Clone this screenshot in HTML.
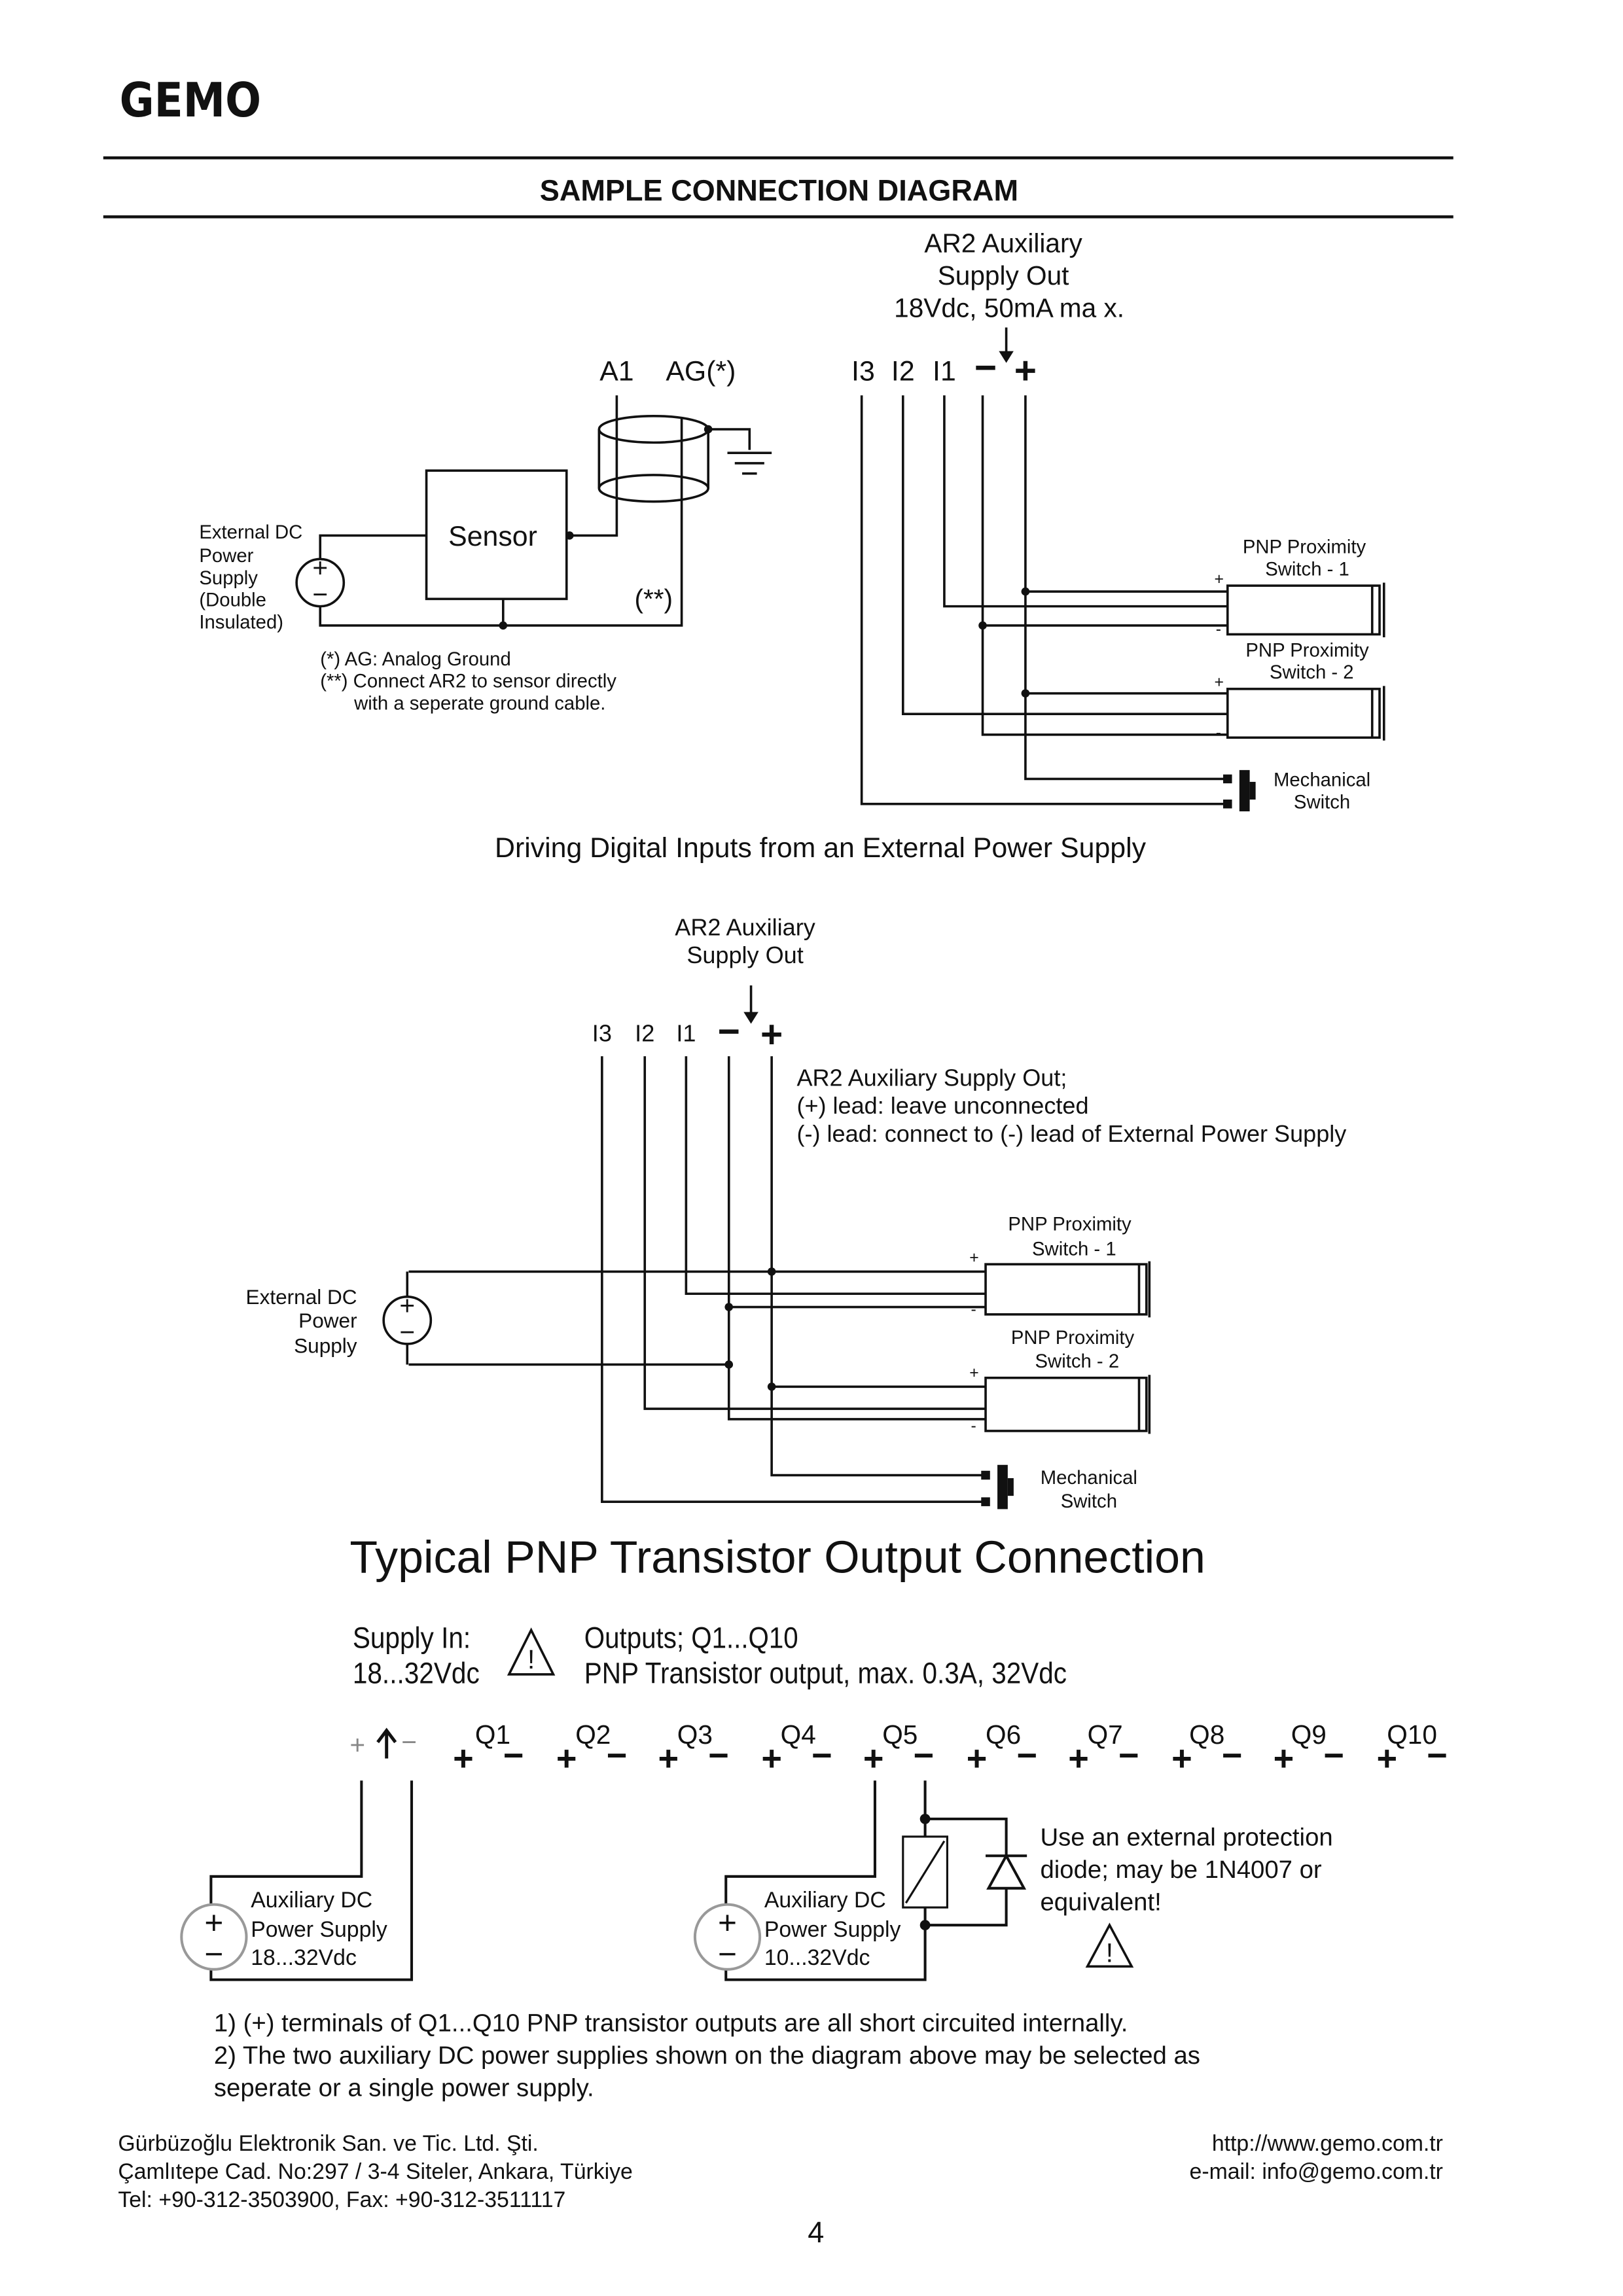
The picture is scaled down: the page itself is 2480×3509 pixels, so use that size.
<!DOCTYPE html>
<html><head><meta charset="utf-8"><style>html,body{margin:0;padding:0;background:#fff}svg{display:block}text{font-family:"Liberation Sans",sans-serif;fill:#111}</style></head>
<body>
<svg width="2480" height="3509" viewBox="0 0 1100 1556.4" preserveAspectRatio="none" xmlns="http://www.w3.org/2000/svg">
<g stroke="#111" fill="none" stroke-width="1.6">
<!-- header -->
<line x1="70" y1="107" x2="985" y2="107" stroke-width="2"/>
<line x1="70" y1="147" x2="985" y2="147" stroke-width="2"/>
</g>
<text x="81" y="79" font-size="32" font-weight="bold" style="font-family:'DejaVu Sans',sans-serif" textLength="96" lengthAdjust="spacingAndGlyphs">GEMO</text>
<text x="528" y="136" font-size="20" font-weight="bold" text-anchor="middle">SAMPLE CONNECTION DIAGRAM</text>

<!-- Section 1 -->
<g font-size="18" text-anchor="middle">
<text x="680" y="171">AR2 Auxiliary</text>
<text x="680" y="193">Supply Out</text>
<text x="684" y="215">18Vdc, 50mA ma x.</text>
</g>
<g font-size="19" text-anchor="middle">
<text x="418" y="258">A1</text><text x="475" y="258">AG(*)</text>
<text x="585" y="258">I3</text><text x="612" y="258">I2</text><text x="640" y="258">I1</text>
<text x="668" y="258" font-size="26" font-weight="bold">−</text><text x="695" y="260" font-size="26" font-weight="bold">+</text>
</g>
<g stroke="#111" fill="none" stroke-width="1.6">
<line x1="682" y1="222" x2="682" y2="240"/>
<path d="M584 268V545H830M612 268V484H832M640 268V411H832M666 268V498H832M695 268V528H830M695 401H832M695 470H832M666 424H832"/>
<rect x="832" y="397" width="103" height="33"/><line x1="930" y1="397" x2="930" y2="430"/><line x1="938" y1="395" x2="938" y2="432"/>
<rect x="832" y="467" width="103" height="33"/><line x1="930" y1="467" x2="930" y2="500"/><line x1="938" y1="465" x2="938" y2="502"/>
<rect x="289" y="319" width="95" height="87"/>
<circle cx="217" cy="395" r="16"/>
<path d="M217 379V363H289M217 411V424H462V283M341 424V406M384 363H418V268"/>
<ellipse cx="443" cy="291" rx="37" ry="9"/><ellipse cx="443" cy="331" rx="37" ry="9"/>
<path d="M406 291V331M480 291V331M480 291H508V305M493 307H523M498 314H518M503 321H513"/>
</g>
<g fill="#111">
<path d="M677 238L687 238L682 246Z"/>
<circle cx="695" cy="401" r="2.8"/><circle cx="695" cy="470" r="2.8"/><circle cx="666" cy="424" r="2.8"/>
<circle cx="341" cy="424" r="2.8"/><circle cx="386" cy="363" r="2.8"/><circle cx="480" cy="291" r="2.8"/>
<rect x="829" y="525" width="6" height="6"/><rect x="829" y="542" width="6" height="6"/>
<rect x="840" y="522" width="7" height="28"/><rect x="847" y="530" width="4" height="12"/>
</g>
<g font-size="18" text-anchor="middle"><text x="217" y="391">+</text><text x="217" y="409">−</text></g>
<text x="334" y="370" font-size="19" text-anchor="middle">Sensor</text>
<text x="443" y="412" font-size="18" text-anchor="middle">(**)</text>
<g font-size="13"><text x="135" y="365">External DC</text><text x="135" y="381">Power</text><text x="135" y="396">Supply</text><text x="135" y="411">(Double</text><text x="135" y="426">Insulated)</text>
<text x="217" y="451">(*) AG: Analog Ground</text><text x="217" y="466">(**) Connect AR2 to sensor directly</text><text x="240" y="481">with a seperate ground cable.</text></g>
<g font-size="13" text-anchor="middle"><text x="884" y="375">PNP Proximity</text><text x="886" y="390">Switch  - 1</text><text x="886" y="445">PNP Proximity</text><text x="889" y="460">Switch  - 2</text><text x="896" y="533">Mechanical</text><text x="896" y="548">Switch</text></g>
<g font-size="11"><text x="823" y="396">+</text><text x="824" y="430">-</text><text x="823" y="466">+</text><text x="824" y="500">-</text></g>
<text x="556" y="581" font-size="19" text-anchor="middle">Driving Digital Inputs from an External Power Supply</text>

<!-- Section 2 -->
<g font-size="16" text-anchor="middle"><text x="505" y="634">AR2 Auxiliary</text><text x="505" y="653">Supply Out</text>
<text x="408" y="706">I3</text><text x="437" y="706">I2</text><text x="465" y="706">I1</text>
<text x="494" y="708" font-size="26" font-weight="bold">−</text><text x="523" y="710" font-size="26" font-weight="bold">+</text></g>
<g font-size="16"><text x="540" y="736">AR2 Auxiliary Supply Out;</text><text x="540" y="755">(+) lead: leave unconnected</text><text x="540" y="774">(-) lead: connect to (-) lead of External Power Supply</text></g>
<g stroke="#111" fill="none" stroke-width="1.6">
<line x1="509" y1="668" x2="509" y2="688"/>
<path d="M408 716V1018H668M437 716V955H668M465 716V877H668M494 716V962H668M523 716V1000H668M523 940H668M494 886H668M277 862H668M277 925H494"/>
<circle cx="276" cy="895" r="16"/><path d="M276 879V862M276 911V925"/>
<rect x="668" y="857" width="109" height="34"/><line x1="772" y1="857" x2="772" y2="891"/><line x1="779" y1="855" x2="779" y2="893"/>
<rect x="668" y="934" width="109" height="36"/><line x1="772" y1="934" x2="772" y2="970"/><line x1="779" y1="932" x2="779" y2="972"/>
</g>
<g fill="#111"><path d="M504 686L514 686L509 694Z"/>
<circle cx="523" cy="862" r="2.8"/><circle cx="523" cy="940" r="2.8"/><circle cx="494" cy="886" r="2.8"/><circle cx="494" cy="925" r="2.8"/>
<rect x="665" y="997" width="6" height="6"/><rect x="665" y="1015" width="6" height="6"/>
<rect x="676" y="993" width="7" height="30"/><rect x="683" y="1002" width="4" height="12"/></g>
<g font-size="18" text-anchor="middle"><text x="276" y="891">+</text><text x="276" y="909">−</text></g>
<g font-size="14" text-anchor="end"><text x="242" y="884">External DC</text><text x="242" y="900">Power</text><text x="242" y="917">Supply</text></g>
<g font-size="13" text-anchor="middle"><text x="725" y="834">PNP Proximity</text><text x="728" y="851">Switch  - 1</text><text x="727" y="911">PNP Proximity</text><text x="730" y="927">Switch  - 2</text><text x="738" y="1006">Mechanical</text><text x="738" y="1022">Switch</text></g>
<g font-size="11"><text x="657" y="856">+</text><text x="658" y="891">-</text><text x="657" y="934">+</text><text x="658" y="970">-</text></g>

<!-- Section 3 -->
<text x="237" y="1066" font-size="31">Typical PNP Transistor Output Connection</text>
<g font-size="20"><text x="239" y="1117" textLength="80" lengthAdjust="spacingAndGlyphs">Supply In:</text><text x="239" y="1141" textLength="86" lengthAdjust="spacingAndGlyphs">18...32Vdc</text>
<text x="396" y="1117" textLength="145" lengthAdjust="spacingAndGlyphs">Outputs; Q1...Q10</text><text x="396" y="1141" textLength="327" lengthAdjust="spacingAndGlyphs">PNP Transistor output, max. 0.3A, 32Vdc</text></g>
<g stroke="#111" fill="none" stroke-width="1.6">
<path d="M360 1105L345 1135H375Z"/><path d="M752 1305L737 1333H767Z"/>
</g>
<g font-size="18" text-anchor="middle" font-weight="bold"><text x="360" y="1131" font-weight="normal">!</text><text x="752" y="1330" font-weight="normal">!</text></g>
<g font-size="18" fill="#777"><text x="237" y="1189" style="fill:#888">+</text><text x="272" y="1187" style="fill:#888">−</text></g>
<g stroke="#111" stroke-width="2.2" fill="none"><path d="M262 1192V1174M256 1181L262 1173L268 1181"/></g>
<g font-size="18" text-anchor="middle">
<text x="334" y="1182">Q1</text><text x="402" y="1182">Q2</text><text x="471" y="1182">Q3</text><text x="541" y="1182">Q4</text><text x="610" y="1182">Q5</text><text x="680" y="1182">Q6</text><text x="749" y="1182">Q7</text><text x="818" y="1182">Q8</text><text x="887" y="1182">Q9</text><text x="957" y="1182">Q10</text>
</g>
<g font-size="24" font-weight="bold" text-anchor="middle">
<text x="314" y="1200">+</text><text x="348" y="1198">−</text><text x="384" y="1200">+</text><text x="418" y="1198">−</text><text x="453" y="1200">+</text><text x="487" y="1198">−</text><text x="523" y="1200">+</text><text x="557" y="1198">−</text><text x="592" y="1200">+</text><text x="626" y="1198">−</text><text x="662" y="1200">+</text><text x="696" y="1198">−</text><text x="731" y="1200">+</text><text x="765" y="1198">−</text><text x="801" y="1200">+</text><text x="835" y="1198">−</text><text x="870" y="1200">+</text><text x="904" y="1198">−</text><text x="940" y="1200">+</text><text x="974" y="1198">−</text>
</g>
<g stroke="#111" fill="none" stroke-width="1.8">
<path d="M245 1207V1272H143V1291M279 1207V1342H143V1335"/>
<circle cx="145" cy="1313" r="22" stroke="#999"/>
<path d="M593 1207V1272H492V1291M627 1207V1342H492V1335"/>
<circle cx="493" cy="1313" r="22" stroke="#999"/>
<path d="M627 1233H682V1305H627"/>
<path d="M670 1280L694 1280L682 1258Z" fill="#fff"/><line x1="668" y1="1258" x2="696" y2="1258"/>
</g>
<rect x="612" y="1245" width="30" height="48" fill="#fff" stroke="#111" stroke-width="1.4"/>
<line x1="614" y1="1290" x2="640" y2="1248" stroke="#111" stroke-width="1.4"/>
<g fill="#111"><circle cx="627" cy="1233" r="3.5"/><circle cx="627" cy="1305" r="3.5"/></g>
<g font-size="22" text-anchor="middle"><text x="145" y="1311">+</text><text x="145" y="1332">−</text><text x="493" y="1311">+</text><text x="493" y="1332">−</text></g>
<g font-size="15"><text x="170" y="1293">Auxiliary DC</text><text x="170" y="1313">Power Supply</text><text x="170" y="1332">18...32Vdc</text>
<text x="518" y="1293">Auxiliary DC</text><text x="518" y="1313">Power Supply</text><text x="518" y="1332">10...32Vdc</text></g>
<g font-size="17"><text x="705" y="1251">Use an external protection</text><text x="705" y="1273">diode; may be 1N4007 or</text><text x="705" y="1295">equivalent!</text>
<text x="145" y="1377">1) (+) terminals of Q1...Q10 PNP transistor outputs are all short circuited internally.</text>
<text x="145" y="1399">2) The two auxiliary DC power supplies shown on the diagram above may be selected as</text>
<text x="145" y="1421">seperate or a single power supply.</text></g>
<g font-size="15"><text x="80" y="1458">Gürbüzoğlu Elektronik San. ve Tic. Ltd. Şti.</text><text x="80" y="1477">Çamlıtepe Cad. No:297 / 3-4 Siteler, Ankara, Türkiye</text><text x="80" y="1496">Tel: +90-312-3503900, Fax: +90-312-3511117</text>
<text x="978" y="1458" text-anchor="end">http://www.gemo.com.tr</text><text x="978" y="1477" text-anchor="end">e-mail: info@gemo.com.tr</text></g>
<text x="553" y="1520" font-size="20" text-anchor="middle">4</text>
</svg>
</body></html>
